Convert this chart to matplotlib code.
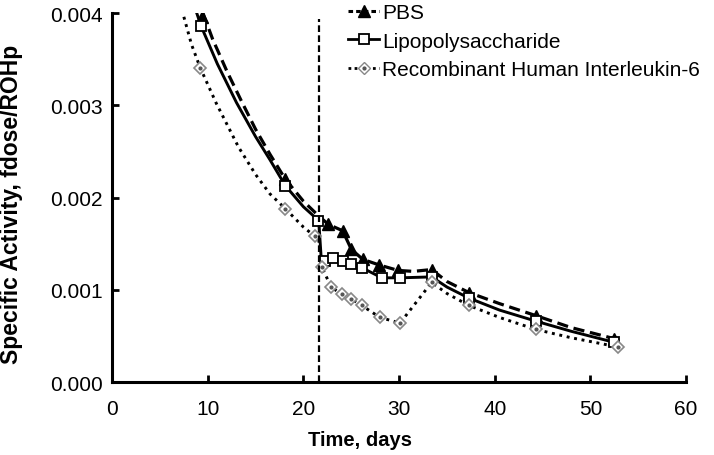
import numpy as np
import matplotlib
matplotlib.use('Agg')
import matplotlib.pyplot as plt

plt.rcParams['font.family'] = ['Liberation Sans', 'DejaVu Sans']

# fitted / connecting lines
pbs_line_x = [9.5, 10.5, 12.0, 13.5, 15.0, 16.5, 18.1, 20.0, 21.6, 22.6, 24.1, 25.0, 26.2, 27.9, 29.9, 31.5, 33.4,
              35.0, 37.3, 40.5, 44.3, 48.0, 52.5]
pbs_line_y = [0.00400, 0.00372, 0.00337, 0.00305, 0.00274, 0.00247, 0.00220, 0.00196, 0.00180, 0.00171, 0.00164,
              0.00144, 0.00133, 0.00127, 0.00121, 0.00120, 0.00122, 0.00109, 0.00097, 0.00085, 0.00072, 0.00059,
              0.00047]
lps_line_x = [8.85, 9.3, 11.0, 13.0, 15.0, 16.5, 18.1, 20.0, 21.6, 21.9, 22.3, 23.1, 24.1, 25.0, 26.1, 28.2, 30.1,
              33.4, 35.0, 37.3, 40.5, 44.3, 48.0, 52.5]
lps_line_y = [0.00400, 0.00386, 0.00345, 0.00303, 0.00266, 0.00241, 0.00213, 0.00190, 0.00175, 0.00127, 0.00131,
              0.00135, 0.00131, 0.00128, 0.00124, 0.00113, 0.00113, 0.00114, 0.00103, 0.00091, 0.00078, 0.00066,
              0.00055, 0.00043]
il6_line_x = [7.5, 8.3, 9.2, 10.9, 13.2, 15.0, 16.5, 18.1, 20.0, 21.2, 21.6, 21.9, 22.9, 24.0, 25.0, 26.1, 28.0,
              30.1, 33.4, 35.0, 37.3, 40.5, 44.3, 48.0, 52.9]
il6_line_y = [0.00396, 0.00366, 0.00341, 0.00302, 0.00255, 0.00225, 0.00204, 0.00188, 0.00168, 0.00158, 0.00155,
              0.00125, 0.00103, 0.00095, 0.00090, 0.00083, 0.00070, 0.00064, 0.00108, 0.00096, 0.00083, 0.00070,
              0.00057, 0.00048, 0.00038]

# measured points
pbs_x = [9.4, 18.1, 22.6, 24.1, 25.0, 26.2, 27.9, 29.9, 33.4, 37.3, 44.3, 52.5]
pbs_y = [0.00396, 0.00220, 0.00171, 0.00164, 0.00144, 0.00133, 0.00127, 0.00121, 0.00122, 0.00097, 0.00072, 0.00047]
lps_x = [9.3, 18.1, 21.5, 22.3, 23.1, 24.1, 25.0, 26.1, 28.2, 30.1, 33.4, 37.3, 44.3, 52.5]
lps_y = [0.00386, 0.00213, 0.00175, 0.00131, 0.00135, 0.00131, 0.00128, 0.00124, 0.00113, 0.00113, 0.00114, 0.00091,
         0.00066, 0.00043]
il6_x = [9.2, 18.1, 21.2, 21.9, 22.9, 24.0, 25.0, 26.1, 28.0, 30.1, 33.4, 37.3, 44.3, 52.9]
il6_y = [0.00341, 0.00188, 0.00158, 0.00125, 0.00103, 0.00095, 0.00090, 0.00083, 0.00070, 0.00064, 0.00108, 0.00083,
         0.00057, 0.00038]

treat_day = 21.6

fig = plt.figure(figsize=(7.14, 4.56), dpi=100)
ax = fig.add_subplot(111)
fig.subplots_adjust(left=0.157, right=0.961, bottom=0.160, top=0.969)

ax.plot(pbs_line_x, pbs_line_y, color='black', lw=2.3, ls=(0, (3.5, 1.8)))
ax.plot(lps_line_x, lps_line_y, color='black', lw=2.1, ls='-')
ax.plot(il6_line_x, il6_line_y, color='black', lw=2.1, ls=(0, (1, 1.6)))

ax.plot(pbs_x, pbs_y, ls='None', marker='^', ms=9, mfc='black', mec='black')
ax.plot(lps_x, lps_y, ls='None', marker='s', ms=7.5, mfc='white', mec='black', mew=1.3)
ax.plot(il6_x, il6_y, ls='None', marker='D', ms=6.5, mfc='white', mec='#888888', mew=1.2)
ax.plot(il6_x, il6_y, ls='None', marker='o', ms=2, color='#555555')

ax.axvline(treat_day, ymin=0, ymax=0.985, color='black', lw=1.6, ls=(0, (3, 1.5)))

# legend proxies
l1, = ax.plot([], [], color='black', lw=2.2, ls=(0, (1.5, 1)), marker='^', ms=8, mfc='black')
l2, = ax.plot([], [], color='black', lw=2.0, ls='-', marker='s', ms=7, mfc='white', mew=1.3)
l3, = ax.plot([], [], color='black', lw=2.0, ls=(0, (1, 1.2)), marker='D', ms=6, mfc='white', mec='#888888')
l3b, = ax.plot([], [], ls='None', color='#555555', marker='o', ms=2)
ax.legend([l1, l2, (l3, l3b)], ['PBS', 'Lipopolysaccharide', 'Recombinant Human Interleukin-6'],
          loc='upper left', bbox_to_anchor=(0.411, 1.027), frameon=False, fontsize=15,
          handlelength=1.5, handletextpad=0.15, labelspacing=0.45, borderpad=0, borderaxespad=0)

ax.set_xlim(0, 60)
ax.set_ylim(0, 0.004)
ax.set_xticks(np.arange(0, 61, 10))
ax.set_yticks([0, 0.001, 0.002, 0.003, 0.004])
ax.set_yticklabels(['0.000', '0.001', '0.002', '0.003', '0.004'])
ax.tick_params(direction='in', length=5, width=2, labelsize=15)
ax.tick_params(axis='x', pad=12)
ax.tick_params(axis='y', pad=7)

for s in ['top', 'right']:
    ax.spines[s].set_visible(False)
for s in ['left', 'bottom']:
    ax.spines[s].set_linewidth(2.2)

ax.set_xlabel('Time, days', fontsize=14.5, fontweight='bold')
ax.xaxis.set_label_coords(0.432, -0.13)
ax.set_ylabel('Specific Activity, fdose/ROHp', fontsize=16.5, fontweight='bold')
ax.yaxis.set_label_coords(-0.155, 0.485)

fig.savefig('out.png', dpi=100)
